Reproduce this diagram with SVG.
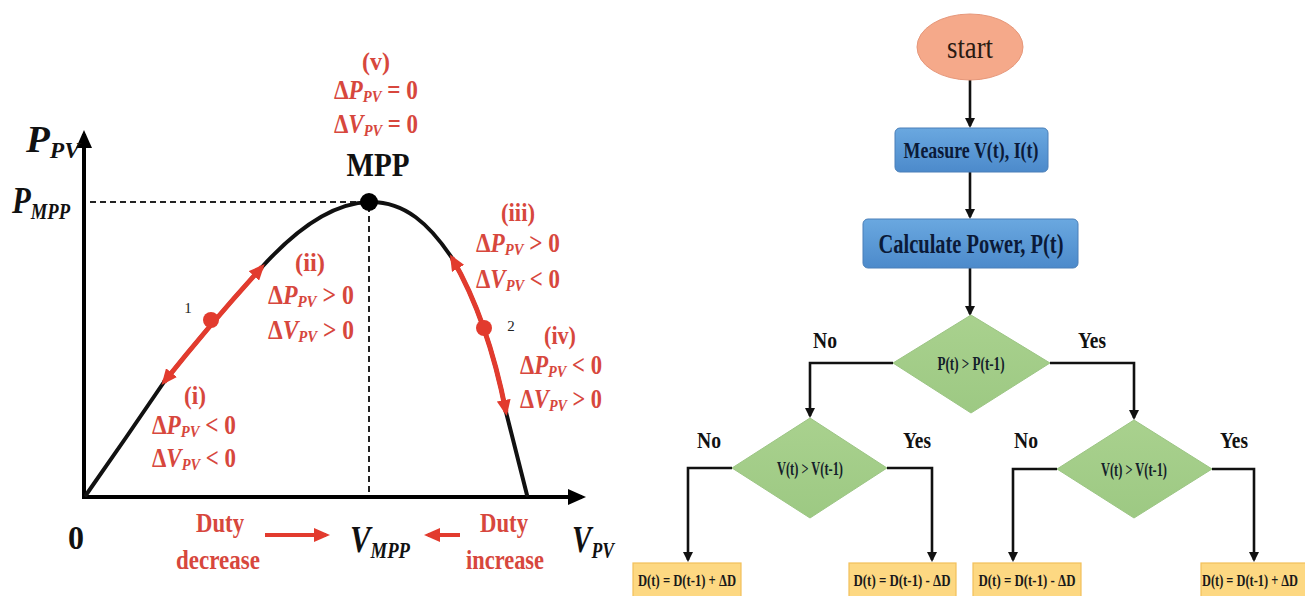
<svg xmlns="http://www.w3.org/2000/svg" width="1305" height="596" viewBox="0 0 1305 596">
<defs>
<style>
.t{font-family:"Liberation Serif","Times New Roman",serif;font-weight:bold}
.red{fill:#d7473d}
.blk{fill:#111}
.it{font-style:italic}
.rl{font-size:27px}
.sb{font-size:17px}
.lbl{font-size:24px;fill:#111;text-anchor:middle}
.conn{fill:none;stroke:#111;stroke-width:2.6}
.dash{fill:none;stroke:#222;stroke-width:2;stroke-dasharray:6 4}
.curve{fill:none;stroke:#111;stroke-width:4;stroke-linecap:round}
.rline{fill:none;stroke:#e23b2e;stroke-width:5}
.dia{fill:url(#gGreen);stroke:#9cc584;stroke-width:1}
.box{fill:url(#gBlue);stroke:#4a7fb8;stroke-width:1}
.obox{fill:#fdd882;stroke:#f2c05a;stroke-width:1.2}
.dtext{font-size:18px;fill:#14202a;text-anchor:middle}
.ftext{font-size:17px;fill:#1a1a1a;text-anchor:middle}
</style>
<linearGradient id="gBlue" x1="0" y1="0" x2="0" y2="1">
<stop offset="0" stop-color="#6aa8e0"/>
<stop offset="1" stop-color="#4c8acb"/>
</linearGradient>
<linearGradient id="gGreen" x1="0" y1="0" x2="0" y2="1">
<stop offset="0" stop-color="#a9d18e"/>
<stop offset="1" stop-color="#9dc983"/>
</linearGradient>
<marker id="ra" viewBox="0 0 16 14" markerWidth="16" markerHeight="14" refX="12" refY="7" orient="auto-start-reverse" markerUnits="userSpaceOnUse">
<path d="M0,0 L16,7 L0,14 z" fill="#e23b2e"/>
</marker>
<marker id="ka" viewBox="0 0 10 10" markerWidth="10" markerHeight="10" refX="8" refY="5" orient="auto" markerUnits="userSpaceOnUse">
<path d="M0,0 L10,5 L0,10 z" fill="#111"/>
</marker>
<marker id="axa" viewBox="0 0 18 16" markerWidth="18" markerHeight="16" refX="14" refY="8" orient="auto" markerUnits="userSpaceOnUse">
<path d="M0,0 L18,8 L0,16 z" fill="#000"/>
</marker>
</defs>
<rect width="1305" height="596" fill="#fff"/>

<!-- Left: P-V chart -->
<g id="chart">
<line x1="84" y1="499" x2="84" y2="134" stroke="#000" stroke-width="4" marker-end="url(#axa)"/>
<line x1="82" y1="497" x2="582" y2="497" stroke="#000" stroke-width="4" marker-end="url(#axa)"/>
<line class="dash" x1="90" y1="202" x2="366" y2="202"/>
<line class="dash" x1="369" y1="206" x2="369" y2="495"/>
<path class="curve" d="M86,495 Q126,438 164,382 Q212,322 262,267 C300,225 335,203 369,202 C405,201 430,225 452,258 Q488,320 506,412 L527,495"/>
<path class="rline" d="M164,382 Q212,322 262,267" marker-start="url(#ra)" marker-end="url(#ra)"/>
<path class="rline" d="M452,258 Q488,320 506,412" marker-start="url(#ra)" marker-end="url(#ra)"/>
<circle cx="211" cy="320" r="8" fill="#e23b2e"/>
<circle cx="484" cy="328" r="8" fill="#e23b2e"/>
<circle cx="369" cy="202" r="9" fill="#000"/>
<text x="188" y="313" font-family="Liberation Serif, serif" font-size="15" fill="#222" text-anchor="middle">1</text>
<text x="511" y="331" font-family="Liberation Serif, serif" font-size="15" fill="#222" text-anchor="middle">2</text>

<text class="t blk it" x="26" y="152" font-size="38" textLength="54" lengthAdjust="spacingAndGlyphs">P<tspan font-size="23" dy="6">PV</tspan></text>
<text class="t blk it" x="12" y="213" font-size="38" textLength="58" lengthAdjust="spacingAndGlyphs">P<tspan font-size="23" dy="6">MPP</tspan></text>
<text class="t blk" x="76" y="549" font-size="34" text-anchor="middle" textLength="16" lengthAdjust="spacingAndGlyphs">0</text>
<text class="t blk it" x="350" y="552" font-size="38" textLength="60" lengthAdjust="spacingAndGlyphs">V<tspan font-size="23" dy="6">MPP</tspan></text>
<text class="t blk it" x="572" y="552" font-size="38" textLength="42" lengthAdjust="spacingAndGlyphs">V<tspan font-size="23" dy="6">PV</tspan></text>
<text class="t blk" x="378" y="176" font-size="33" text-anchor="middle" font-weight="normal" textLength="63" lengthAdjust="spacingAndGlyphs">MPP</text>

<!-- (v) -->
<text class="t red" x="376" y="70" font-size="25" text-anchor="middle" textLength="28" lengthAdjust="spacingAndGlyphs">(v)</text>
<text class="t red rl" x="376" y="99" text-anchor="middle" textLength="84" lengthAdjust="spacingAndGlyphs">Δ<tspan class="it">P</tspan><tspan class="sb it" dy="3">PV</tspan><tspan dy="-3"> = 0</tspan></text>
<text class="t red rl" x="376" y="133" text-anchor="middle" textLength="84" lengthAdjust="spacingAndGlyphs">Δ<tspan class="it">V</tspan><tspan class="sb it" dy="3">PV</tspan><tspan dy="-3"> = 0</tspan></text>
<!-- (ii) -->
<text class="t red" x="310" y="271" font-size="25" text-anchor="middle" textLength="30" lengthAdjust="spacingAndGlyphs">(ii)</text>
<text class="t red rl" x="311" y="304" text-anchor="middle" textLength="86" lengthAdjust="spacingAndGlyphs">Δ<tspan class="it">P</tspan><tspan class="sb it" dy="3">PV</tspan><tspan dy="-3"> &gt; 0</tspan></text>
<text class="t red rl" x="311" y="339" text-anchor="middle" textLength="86" lengthAdjust="spacingAndGlyphs">Δ<tspan class="it">V</tspan><tspan class="sb it" dy="3">PV</tspan><tspan dy="-3"> &gt; 0</tspan></text>
<!-- (iii) -->
<text class="t red" x="518" y="221" font-size="25" text-anchor="middle" textLength="34" lengthAdjust="spacingAndGlyphs">(iii)</text>
<text class="t red rl" x="518" y="252" text-anchor="middle" textLength="84" lengthAdjust="spacingAndGlyphs">Δ<tspan class="it">P</tspan><tspan class="sb it" dy="3">PV</tspan><tspan dy="-3"> &gt; 0</tspan></text>
<text class="t red rl" x="518" y="288" text-anchor="middle" textLength="84" lengthAdjust="spacingAndGlyphs">Δ<tspan class="it">V</tspan><tspan class="sb it" dy="3">PV</tspan><tspan dy="-3"> &lt; 0</tspan></text>
<!-- (iv) -->
<text class="t red" x="560" y="344" font-size="25" text-anchor="middle" textLength="32" lengthAdjust="spacingAndGlyphs">(iv)</text>
<text class="t red rl" x="561" y="374" text-anchor="middle" textLength="82" lengthAdjust="spacingAndGlyphs">Δ<tspan class="it">P</tspan><tspan class="sb it" dy="3">PV</tspan><tspan dy="-3"> &lt; 0</tspan></text>
<text class="t red rl" x="561" y="408" text-anchor="middle" textLength="82" lengthAdjust="spacingAndGlyphs">Δ<tspan class="it">V</tspan><tspan class="sb it" dy="3">PV</tspan><tspan dy="-3"> &gt; 0</tspan></text>
<!-- (i) -->
<text class="t red" x="195" y="404" font-size="25" text-anchor="middle" textLength="22" lengthAdjust="spacingAndGlyphs">(i)</text>
<text class="t red rl" x="194" y="434" text-anchor="middle" textLength="84" lengthAdjust="spacingAndGlyphs">Δ<tspan class="it">P</tspan><tspan class="sb it" dy="3">PV</tspan><tspan dy="-3"> &lt; 0</tspan></text>
<text class="t red rl" x="194" y="467" text-anchor="middle" textLength="84" lengthAdjust="spacingAndGlyphs">Δ<tspan class="it">V</tspan><tspan class="sb it" dy="3">PV</tspan><tspan dy="-3"> &lt; 0</tspan></text>

<text class="t red" x="220" y="532" font-size="28" text-anchor="middle" textLength="48" lengthAdjust="spacingAndGlyphs">Duty</text>
<text class="t red" x="218" y="569" font-size="28" text-anchor="middle" textLength="84" lengthAdjust="spacingAndGlyphs">decrease</text>
<text class="t red" x="504" y="532" font-size="28" text-anchor="middle" textLength="48" lengthAdjust="spacingAndGlyphs">Duty</text>
<text class="t red" x="505" y="569" font-size="28" text-anchor="middle" textLength="78" lengthAdjust="spacingAndGlyphs">increase</text>
<line x1="265" y1="535" x2="326" y2="535" stroke="#e23b2e" stroke-width="4" marker-end="url(#ra)"/>
<line x1="460" y1="535" x2="428" y2="535" stroke="#e23b2e" stroke-width="4" marker-end="url(#ra)"/>
</g>

<!-- Flowchart connectors -->
<g id="connectors">
<line class="conn" x1="970" y1="80" x2="970" y2="126" marker-end="url(#ka)"/>
<line class="conn" x1="970" y1="172" x2="970" y2="217" marker-end="url(#ka)"/>
<line class="conn" x1="970" y1="268" x2="970" y2="314" marker-end="url(#ka)"/>
<polyline class="conn" points="893,363 810,363 810,416" marker-end="url(#ka)"/>
<polyline class="conn" points="1050,363 1134,363 1134,418" marker-end="url(#ka)"/>
<polyline class="conn" points="732,468 688,468 688,560" marker-end="url(#ka)"/>
<polyline class="conn" points="887,468 932,468 932,560" marker-end="url(#ka)"/>
<polyline class="conn" points="1057,469 1013,469 1013,560" marker-end="url(#ka)"/>
<polyline class="conn" points="1212,469 1254,469 1254,560" marker-end="url(#ka)"/>
</g>

<g id="start">
<ellipse cx="970" cy="47" rx="53" ry="33" fill="#f5a98a" stroke="#e6977a" stroke-width="1"/>
<text x="970" y="58" font-family="Liberation Serif, serif" font-size="31" fill="#2a1a12" text-anchor="middle" textLength="46" lengthAdjust="spacingAndGlyphs">start</text>
</g>
<g id="measure">
<rect class="box" x="895" y="128" width="153" height="44" rx="5"/>
<text class="t" x="971" y="158" font-size="23" fill="#0b1a38" text-anchor="middle" textLength="135" lengthAdjust="spacingAndGlyphs">Measure V(t), I(t)</text>
</g>
<g id="calc">
<rect class="box" x="863" y="219" width="215" height="49" rx="5"/>
<text class="t" x="971" y="253" font-size="27" fill="#0b1a38" text-anchor="middle" textLength="185" lengthAdjust="spacingAndGlyphs">Calculate Power, P(t)</text>
</g>
<g id="d1">
<polygon class="dia" points="971,315 1050,363 971,413 893,363"/>
<text class="t dtext" x="971" y="370" textLength="67" lengthAdjust="spacingAndGlyphs">P(t) &gt; P(t-1)</text>
</g>
<g id="d2">
<polygon class="dia" points="810,418 887,468 810,518 732,468"/>
<text class="t dtext" x="810" y="475" textLength="66" lengthAdjust="spacingAndGlyphs">V(t) &gt; V(t-1)</text>
</g>
<g id="d3">
<polygon class="dia" points="1134,420 1212,469 1134,518 1057,469"/>
<text class="t dtext" x="1134" y="476" textLength="66" lengthAdjust="spacingAndGlyphs">V(t) &gt; V(t-1)</text>
</g>
<g id="labels">
<text class="t lbl" x="825" y="348" textLength="24" lengthAdjust="spacingAndGlyphs">No</text>
<text class="t lbl" x="1092" y="348" textLength="28" lengthAdjust="spacingAndGlyphs">Yes</text>
<text class="t lbl" x="709" y="448" textLength="24" lengthAdjust="spacingAndGlyphs">No</text>
<text class="t lbl" x="917" y="448" textLength="28" lengthAdjust="spacingAndGlyphs">Yes</text>
<text class="t lbl" x="1026" y="448" textLength="24" lengthAdjust="spacingAndGlyphs">No</text>
<text class="t lbl" x="1234" y="448" textLength="28" lengthAdjust="spacingAndGlyphs">Yes</text>
</g>
<g id="r1">
<rect class="obox" x="633" y="563" width="108" height="40"/>
<text class="t ftext" x="687" y="586" textLength="98" lengthAdjust="spacingAndGlyphs">D(t) = D(t-1) + ΔD</text>
</g>
<g id="r2">
<rect class="obox" x="849" y="563" width="107" height="40"/>
<text class="t ftext" x="902" y="586" textLength="97" lengthAdjust="spacingAndGlyphs">D(t) = D(t-1) - ΔD</text>
</g>
<g id="r3">
<rect class="obox" x="973" y="563" width="108" height="40"/>
<text class="t ftext" x="1027" y="586" textLength="97" lengthAdjust="spacingAndGlyphs">D(t) = D(t-1) - ΔD</text>
</g>
<g id="r4">
<rect class="obox" x="1201" y="563" width="110" height="40"/>
<text class="t ftext" x="1250" y="586" textLength="96" lengthAdjust="spacingAndGlyphs">D(t) = D(t-1) + ΔD</text>
</g>
</svg>
